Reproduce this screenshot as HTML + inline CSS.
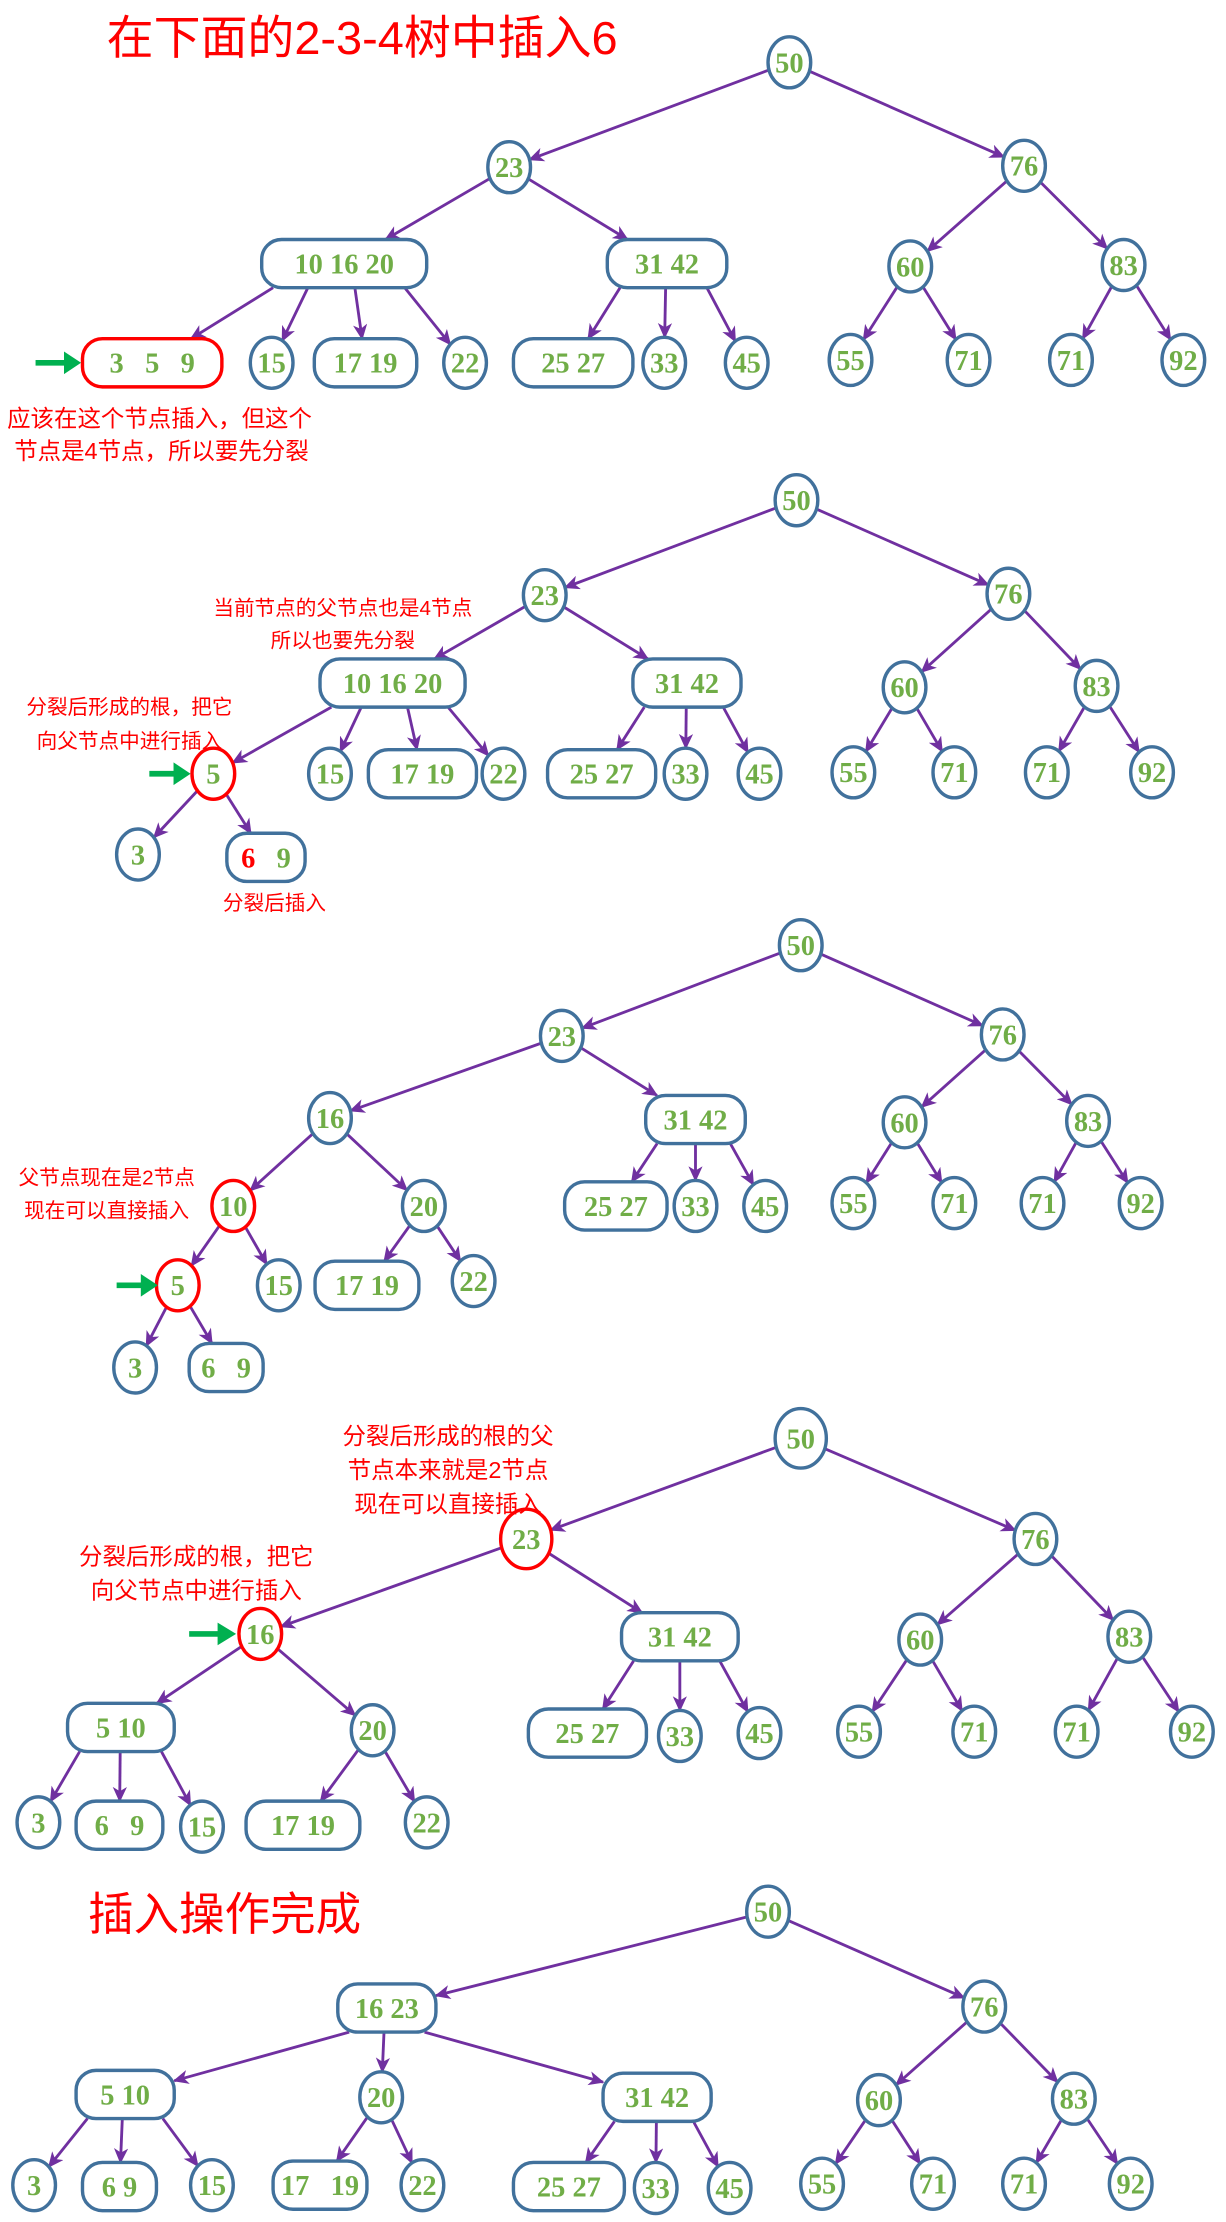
<!DOCTYPE html>
<html><head><meta charset="utf-8">
<style>
html,body{margin:0;padding:0;background:#fff;width:1226px;height:2222px;overflow:hidden}
svg{display:block}
.t{font-family:"Liberation Serif",serif;font-weight:bold;font-size:20px;fill:#70ad47;white-space:pre}
.r{font-family:"Liberation Sans","Noto Sans CJK SC",sans-serif;fill:#ff0000}
</style></head><body>
<svg id="s" width="1226" height="2222" viewBox="0 0 862 1568" preserveAspectRatio="none" xmlns="http://www.w3.org/2000/svg">
<defs><marker id="ar" markerUnits="userSpaceOnUse" markerWidth="12" markerHeight="12" refX="10" refY="5" orient="auto"><path d="M0,0 L11,5 L0,10 L3,5 z" fill="#7030a0"/></marker></defs>
<g id="edges"></g>
<g id="nodes"></g>
<g class="r">
<text x="75" y="38" font-size="33">在下面的2-3-4树中插入6</text>
<text x="5" y="301" font-size="16.5">应该在这个节点插入，但这个</text>
<text x="10" y="324" font-size="16.5">节点是4节点，所以要先分裂</text>
<text x="241" y="434" font-size="14.5" text-anchor="middle">当前节点的父节点也是4节点</text>
<text x="241" y="457" font-size="14.5" text-anchor="middle">所以也要先分裂</text>
<text x="91" y="504" font-size="14.5" text-anchor="middle">分裂后形成的根，把它</text>
<text x="91" y="528" font-size="14.5" text-anchor="middle">向父节点中进行插入</text>
<text x="193" y="642" font-size="14.5" text-anchor="middle">分裂后插入</text>
<text x="75" y="836" font-size="14.5" text-anchor="middle">父节点现在是2节点</text>
<text x="75" y="859" font-size="14.5" text-anchor="middle">现在可以直接插入</text>
<text x="315" y="1019" font-size="16.5" text-anchor="middle">分裂后形成的根的父</text>
<text x="315" y="1043" font-size="16.5" text-anchor="middle">节点本来就是2节点</text>
<text x="315" y="1067" font-size="16.5" text-anchor="middle">现在可以直接插入</text>
<text x="138" y="1104" font-size="16.5" text-anchor="middle">分裂后形成的根，把它</text>
<text x="138" y="1128" font-size="16.5" text-anchor="middle">向父节点中进行插入</text>
<text x="62" y="1362" font-size="32">插入操作完成</text>
</g>
<g stroke="#00b050" fill="#00b050">
<line x1="25" y1="256" x2="48" y2="256" stroke-width="4"/><path d="M45,248 L57,256 L45,264 z" stroke="none"/>
<line x1="105" y1="546" x2="125" y2="546" stroke-width="4"/><path d="M122,538 L134,546 L122,554 z" stroke="none"/>
<line x1="82" y1="907" x2="102" y2="907" stroke-width="4"/><path d="M99,899 L111,907 L99,915 z" stroke="none"/>
<line x1="133" y1="1153" x2="156" y2="1153" stroke-width="4"/><path d="M153,1145 L166,1153 L153,1161 z" stroke="none"/>
</g>
</svg>
<script>
var NS="http://www.w3.org/2000/svg",N={};
var D=[
['a50','50',555,44],['a23','23',358,118],['a76','76',720,117],['aA','10 16 20',242,186,116],['aB','31 42',469,186,84],['a60','60',640,188],['a83','83',790,187],
['a359','3   5   9',107,256,98,1],['a15','15',191,256],['a1719','17 19',257,256,72],['a22','22',327,256],['a2527','25 27',403,256,84],['a33','33',467,256],['a45','45',525,256],['a55','55',598,254],['a71','71',681,254],['a71b','71',753,254],['a92','92',832,254],
['b50','50',560,353],['b23','23',383,420],['b76','76',709,419],['bA','10 16 20',276,482,102],['bB','31 42',483,482,76],['b60','60',636,485],['b83','83',771,484],['b5','5',150,546,0,1],['b15','15',232,546],['b1719','17 19',297,546,76],['b22','22',354,546],['b2527','25 27',423,546,76],['b33','33',482,546],['b45','45',534,546],['b55','55',600,545],['b71','71',671,545],['b71b','71',736,545],['b92','92',810,545],['b3','3',97,603],['b69','69',187,605,55],
['c50','50',563,667],['c23','23',395,731],['c76','76',705,730],['c16','16',232,789],['cB','31 42',489,790,70],['c60','60',636,792],['c83','83',765,791],['c10','10',164,851,0,1],['c20','20',298,851],['c2527','25 27',433,851,72],['c33','33',489,851],['c45','45',538,851],['c55','55',600,849],['c71','71',671,849],['c71b','71',733,849],['c92','92',802,849],['c5','5',125,907,0,1],['c15','15',196,907],['c1719','17 19',258,907,73],['c22','22',333,904],['c3','3',95,965],['c69','6   9',159,965,52],
['d50','50',563,1015,0,0,21],['d23','23',370,1086,0,1,21],['d76','76',728,1086],['d16','16',183,1153,0,1],['dB','31 42',478,1155,82],['d60','60',647,1157],['d83','83',794,1155],['dA','5 10',85,1219,75],['d20','20',262,1221],['d2527','25 27',413,1223,83],['d33','33',478,1225],['d45','45',534,1223],['d55','55',604,1222],['d71','71',685,1222],['d71b','71',757,1222],['d92','92',838,1222],['d3','3',27,1286],['d69','6   9',84,1288,61],['d15','15',142,1289],['d1719','17 19',213,1288,80],['d22','22',300,1286],
['e50','50',540,1349],['eA','16 23',272,1417,69],['e76','76',692,1416],['eC','5 10',88,1478,69],['e20','20',268,1480],['eB','31 42',462,1480,76],['e60','60',618,1482],['e83','83',755,1481],['e3','3',24,1542],['e69','6 9',84,1543,52],['e15','15',149,1542],['e1719','17   19',225,1542,66],['e22','22',297,1542],['e2527','25 27',400,1543,78],['e33','33',461,1544],['e45','45',513,1544],['e55','55',578,1541],['e71','71',656,1541],['e71b','71',720,1541],['e92','92',795,1541]
];
var E="a50-a23 a50-a76 a23-aA a23-aB a76-a60 a76-a83 aA-a359 aA-a15 aA-a1719 aA-a22 aB-a2527 aB-a33 aB-a45 a60-a55 a60-a71 a83-a71b a83-a92 b50-b23 b50-b76 b23-bA b23-bB b76-b60 b76-b83 bA-b5 bA-b15 bA-b1719 bA-b22 bB-b2527 bB-b33 bB-b45 b60-b55 b60-b71 b83-b71b b83-b92 b5-b3 b5-b69 c50-c23 c50-c76 c23-c16 c23-cB c76-c60 c76-c83 c16-c10 c16-c20 cB-c2527 cB-c33 cB-c45 c60-c55 c60-c71 c83-c71b c83-c92 c10-c5 c10-c15 c20-c1719 c20-c22 c5-c3 c5-c69 d50-d23 d50-d76 d23-d16 d23-dB d76-d60 d76-d83 d16-dA d16-d20 dB-d2527 dB-d33 dB-d45 d60-d55 d60-d71 d83-d71b d83-d92 dA-d3 dA-d69 dA-d15 d20-d1719 d20-d22 e50-eA e50-e76 eA-eC eA-e20 eA-eB e76-e60 e76-e83 eC-e3 eC-e69 eC-e15 e20-e1719 e20-e22 eB-e2527 eB-e33 eB-e45 e60-e55 e60-e71 e83-e71b e83-e92".split(" ");
function el(t,a,p){var e=document.createElementNS(NS,t);for(var k in a)e.setAttribute(k,a[k]);p.appendChild(e);return e;}
var G=document.getElementById('nodes'),GE=document.getElementById('edges');
D.forEach(function(d){var o={x:d[2],y:d[3],w:d[4]||0,red:d[5]||0,r:d[6]||18};o.rx=o.w?o.w/2:o.r-3;o.ry=o.w?17:o.r;N[d[0]]=o;
 var st=o.red?'#ff0000':'#41719c';
 if(o.w) el('rect',{x:o.x-o.w/2,y:o.y-17,width:o.w,height:34,rx:14,ry:14,fill:'#fff',stroke:st,'stroke-width':2.4},G);
 else el('ellipse',{cx:o.x,cy:o.y,rx:o.rx,ry:o.ry,fill:'#fff',stroke:st,'stroke-width':2.4},G);
 var t=el('text',{x:o.x,y:o.y+7,'text-anchor':'middle','class':'t'},G);
 if(d[0]=='b69'){var a=el('tspan',{fill:'#ff0000'},t);a.textContent='6';var b=el('tspan',{},t);b.textContent='   9';}
 else t.textContent=d[1];
});
function clip(o,sx,sy){var dx=sx-o.x,dy=sy-o.y,t;
 if(o.w){t=Math.min(Math.abs(dx)>0.01?o.rx/Math.abs(dx):1e9,o.ry/Math.abs(dy||0.01));}
 else t=1/Math.sqrt((dx/o.rx)*(dx/o.rx)+(dy/o.ry)*(dy/o.ry));
 return [o.x+dx*t,o.y+dy*t];}
E.forEach(function(s){var p=N[s.split('-')[0]],c=N[s.split('-')[1]],sx,sy;
 if(p.w&&c.y-p.y>40){var off=(c.x-p.x)*0.5,lim=p.w/2-8;off=Math.max(-lim,Math.min(lim,off));sx=p.x+off;sy=p.y+17;}
 else{var q=clip(p,c.x,c.y);sx=q[0];sy=q[1];}
 var e=clip(c,sx,sy);
 el('line',{x1:sx,y1:sy,x2:e[0],y2:e[1],stroke:'#7030a0','stroke-width':2,'marker-end':'url(#ar)'},GE);
});
</script>
</body></html>
